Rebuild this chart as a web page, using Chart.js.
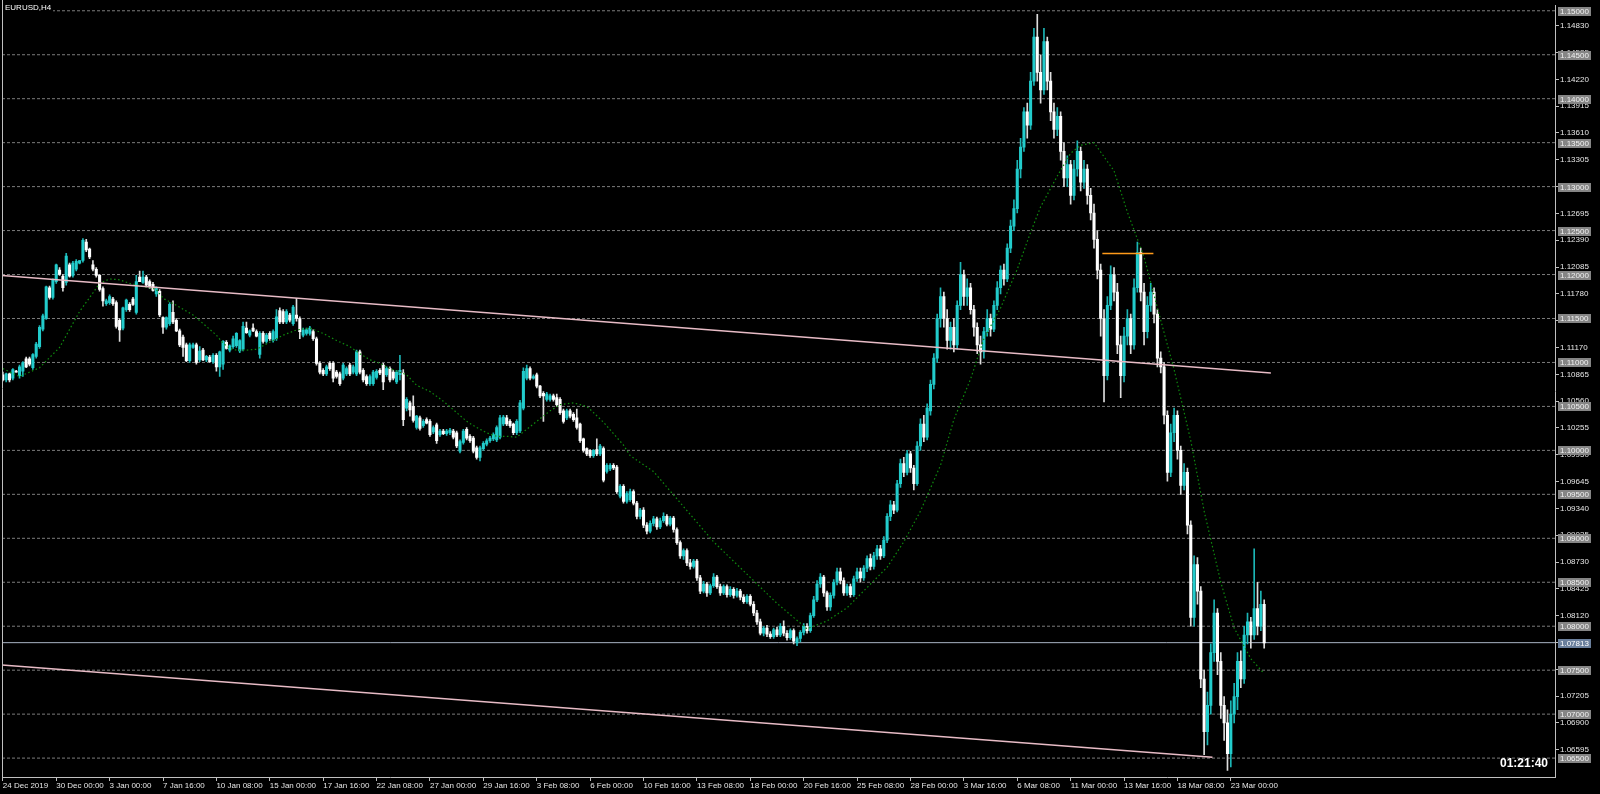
<!DOCTYPE html>
<html>
<head>
<meta charset="utf-8">
<script src="https://cdn.jsdelivr.net/npm/chart.js@4.4.1/dist/chart.umd.min.js"></script>
<style>
  html, body { margin: 0; padding: 0; background: #000; }
</style>
</head>
<body>
<canvas id="chart" width="1600" height="794"></canvas>
<script>
// EURUSD H4, 24 Dec 2019 .. 24 Mar 2020
const symbolLabel = 'EURUSD,H4';
const timerLabel = '01:21:40';

const timeLabels = ['24 Dec 2019', '30 Dec 00:00', '3 Jan 00:00', '7 Jan 16:00', '10 Jan 08:00', '15 Jan 00:00',
  '17 Jan 16:00', '22 Jan 08:00', '27 Jan 00:00', '29 Jan 16:00', '3 Feb 08:00', '6 Feb 00:00',
  '10 Feb 16:00', '13 Feb 08:00', '18 Feb 00:00', '20 Feb 16:00', '25 Feb 08:00', '28 Feb 00:00',
  '3 Mar 16:00', '6 Mar 08:00', '11 Mar 00:00', '13 Mar 16:00', '18 Mar 08:00', '23 Mar 00:00'];
const timeLabelBars = [0, 16, 32, 48, 64, 80, 96, 112, 128, 144, 160, 176,
  192, 208, 224, 240, 256, 272, 288, 304, 320, 336, 352, 368];

const priceTicks = [1.06595, 1.06900, 1.07205, 1.07510, 1.07815, 1.08120, 1.08425, 1.08730, 1.09035, 1.09340,
  1.09645, 1.09950, 1.10255, 1.10560, 1.10865, 1.11170, 1.11475, 1.11780, 1.12085, 1.12390,
  1.12695, 1.13000, 1.13305, 1.13610, 1.13915, 1.14220, 1.14525, 1.14830];
const levelPrices = [1.065, 1.070, 1.075, 1.080, 1.085, 1.090, 1.095, 1.100, 1.105,
  1.110, 1.115, 1.120, 1.125, 1.130, 1.135, 1.140, 1.145, 1.150];
const bidPrice = 1.07813;

const opens = [
  1.1086,1.1080,1.1087,1.1082,1.1090,1.1085,1.1090,1.1104,1.1104,1.1094,
  1.1107,1.1118,1.1138,1.1150,1.1185,1.1174,1.1192,1.1205,1.1198,1.1191,
  1.1211,1.1199,1.1206,1.1213,1.1216,1.1237,1.1229,1.1211,1.1206,1.1199,
  1.1184,1.1167,1.1168,1.1172,1.1168,1.1148,1.1139,1.1160,1.1166,
  1.1172,1.1157,1.1197,1.1191,1.1197,1.1192,1.1189,1.1178,1.1181,1.1151,1.1140,
  1.1144,1.1157,1.1148,1.1136,1.1129,1.1120,1.1102,1.1117,1.1120,1.1103,
  1.1114,1.1103,1.1106,1.1101,1.1108,1.1095,1.1098,1.1123,1.1114,1.1118,
  1.1119,1.1113,1.1115,1.1139,1.1131,1.1139,
  1.1135,1.1109,1.1133,1.1124,1.1133,1.1125,1.1127,1.1159,1.1158,1.1146,
  1.1154,1.1144,1.1154,1.1150,1.1131,1.1133,1.1133,1.1135,1.1127,1.1099,
  1.1091,1.1087,1.1099,1.1099,1.1089,1.1087,1.1082,1.1087,1.1097,1.1089,
  1.1087,1.1112,1.1091,1.1084,1.1076,1.1076,
  1.1083,1.1091,1.1097,1.1086,1.1093,1.1089,1.1078,1.1086,1.1088,1.1048,
  1.1054,1.1050,1.1026,1.1037,1.1028,1.1035,1.1033,1.1021,1.1029,1.1018,
  1.1022,1.1019,1.1020,1.1022,1.1020,1.0999,1.1009,1.1024,1.1016,1.1014,
  1.1003,1.0992,1.1002,1.1007,1.1011,1.1013,1.1012,1.1015,
  1.1030,1.1037,1.1033,1.1030,1.1020,1.1022,1.1048,1.1082,1.1093,1.1082,
  1.1086,1.1073,1.1065,1.1058,1.1058,1.1062,1.1060,1.1058,1.1045,1.1037,
  1.1045,1.1041,1.1037,1.1030,1.1013,1.1002,1.1000,1.0994,1.1001,1.0996,
  1.1002,1.0976,1.0979,1.0983,1.0981,1.0948,1.0959,1.0942,1.0944,
  1.0953,1.0940,1.0925,1.0932,1.0915,1.0908,1.0917,1.0922,1.0913,1.0920,
  1.0925,1.0916,1.0923,1.0910,1.0895,1.0880,1.0886,1.0872,1.0868,
  1.0874,1.0855,1.0840,1.0848,1.0838,1.0846,1.0856,1.0845,1.0838,1.0845,
  1.0836,1.0842,1.0835,1.0840,1.0833,1.0828,1.0834,1.0825,1.0815,
  1.0805,1.0792,1.0798,1.0791,1.0788,1.0796,1.0790,1.0800,1.0792,1.0787,
  1.0795,1.0781,1.0786,1.0793,1.0800,1.0795,1.0812,
  1.0830,1.0848,1.0856,1.0838,1.0822,1.0835,1.0850,1.0862,1.0852,1.0838,
  1.0845,1.0836,1.0854,
  1.0862,1.0855,1.0866,1.0877,1.0868,1.0880,1.0888,1.0880,1.0898,1.0925,
  1.0938,1.0932,1.0962,1.0985,1.0975,1.0996,
  1.0980,1.0962,1.1005,1.1030,1.1015,1.1045,1.1075,1.1105,1.1150,1.1175,
  1.1150,1.1125,1.1140,1.1120,1.1165,1.1200,
  1.1175,1.1185,1.1160,1.1140,1.1120,1.1112,1.1135,1.1150,1.1138,1.1165,
  1.1185,1.1205,1.1195,1.1230,1.1255,1.1275,
  1.1320,1.1345,1.1385,1.1370,1.1420,1.1470,1.1430,1.1410,1.1465,1.1420,
  1.1385,1.1365,1.1380,1.1340,1.1310,1.1325,
  1.1290,1.1320,1.1340,1.1305,1.1320,1.1290,1.1270,1.1240,1.1205,1.1150,
  1.1085,1.1165,1.1200,1.1180,1.1120,1.1085,
  1.1130,1.1150,1.1120,1.1185,1.1225,1.1180,1.1135,1.1165,1.1180,1.1155,
  1.1105,1.1095,1.1040,1.0975,1.1020,1.1040,
  1.1000,1.0960,1.0975,1.0915,1.0810,1.0870,1.0840,1.0740,1.0680,1.0710,
  1.0770,1.0815,1.0760,1.0710,1.0690,1.0655,1.0700,1.0720,1.0760,1.0740,
  1.0790,1.0805,1.0790,1.0820,1.0800,1.0825
];
const highs = [
  1.1089,1.1088,1.1088,1.1093,1.1091,1.1097,1.1101,1.1106,1.1106,1.1110,
  1.1123,1.1142,1.1155,1.1187,1.1187,1.1195,1.1212,1.1208,1.1200,1.1224,
  1.1213,1.1215,1.1217,1.1216,1.1241,1.1240,1.1230,1.1216,1.1208,1.1200,
  1.1186,1.1172,1.1177,1.1174,1.1170,1.1150,1.1163,1.1172,1.1168,
  1.1174,1.1199,1.1204,1.1204,1.1199,1.1194,1.1191,1.1186,1.1183,1.1152,1.1152,
  1.1168,1.1170,1.1150,1.1138,1.1131,1.1122,1.1122,1.1122,1.1122,1.1118,
  1.1116,1.1108,1.1108,1.1110,1.1110,1.1113,1.1125,1.1125,1.1120,1.1130,
  1.1134,1.1126,1.1146,1.1146,1.1137,1.1144,
  1.1137,1.1135,1.1135,1.1133,1.1135,1.1137,1.1160,1.1162,1.1160,1.1160,
  1.1156,1.1165,1.1173,1.1152,1.1139,1.1139,1.1141,1.1137,1.1129,1.1101,
  1.1093,1.1097,1.1101,1.1101,1.1091,1.1089,1.1099,1.1095,1.1099,1.1097,
  1.1114,1.1114,1.1093,1.1086,1.1086,1.1091,
  1.1092,1.1093,1.1099,1.1095,1.1095,1.1091,1.1091,1.1108,1.1092,1.1060,
  1.1056,1.1062,1.1040,1.1039,1.1035,1.1037,1.1035,1.1028,1.1031,1.1024,
  1.1024,1.1024,1.1025,1.1024,1.1022,1.1012,1.1024,1.1026,1.1018,1.1016,
  1.1005,1.1005,1.1010,1.1013,1.1016,1.1020,1.1028,1.1040,
  1.1040,1.1040,1.1035,1.1031,1.1035,1.1057,1.1094,1.1097,1.1095,1.1086,
  1.1088,1.1074,1.1067,1.1066,1.1064,1.1064,1.1064,1.1060,1.1047,1.1047,
  1.1047,1.1043,1.1047,1.1031,1.1014,1.1003,1.1001,1.1001,1.1013,1.1007,
  1.1004,1.0985,1.0985,1.0985,1.0983,1.0961,1.0961,1.0953,1.0956,
  1.0955,1.0942,1.0934,1.0935,1.0918,1.0920,1.0925,1.0924,1.0923,1.0929,
  1.0927,1.0925,1.0925,1.0912,1.0897,1.0888,1.0888,1.0876,1.0876,
  1.0876,1.0858,1.0851,1.0850,1.0848,1.0860,1.0858,1.0848,1.0847,1.0847,
  1.0845,1.0844,1.0843,1.0842,1.0836,1.0836,1.0836,1.0828,1.0818,
  1.0808,1.0800,1.0801,1.0794,1.0798,1.0799,1.0803,1.0806,1.0795,1.0797,
  1.0797,1.0788,1.0795,1.0803,1.0803,1.0815,1.0834,
  1.0852,1.0860,1.0858,1.0840,1.0838,1.0853,1.0866,1.0866,1.0855,1.0848,
  1.0848,1.0857,1.0866,
  1.0866,1.0869,1.0880,1.0882,1.0884,1.0892,1.0892,1.0902,1.0928,1.0943,
  1.0942,1.0966,1.0990,1.0992,1.1000,1.0999,
  1.0983,1.1010,1.1036,1.1040,1.1053,1.1080,1.1110,1.1155,1.1185,1.1180,
  1.1160,1.1146,1.1150,1.1170,1.1214,1.1205,
  1.1195,1.1190,1.1165,1.1145,1.1130,1.1140,1.1160,1.1155,1.1170,1.1192,
  1.1210,1.1212,1.1235,1.1262,1.1285,1.1330,
  1.1355,1.1390,1.1395,1.1430,1.1480,1.1496,1.1450,1.1480,1.1470,1.1430,
  1.1395,1.1390,1.1385,1.1350,1.1335,1.1330,
  1.1330,1.1352,1.1345,1.1330,1.1325,1.1298,1.1280,1.1250,1.1212,1.1160,
  1.1175,1.1210,1.1208,1.1190,1.1130,1.1140,
  1.1160,1.1155,1.1195,1.1237,1.1230,1.1190,1.1175,1.1190,1.1185,1.1160,
  1.1112,1.1100,1.1045,1.1030,1.1048,1.1045,
  1.1005,1.0985,1.0980,1.0920,1.0880,1.0878,1.0845,1.0750,1.0725,1.0780,
  1.0830,1.0820,1.0770,1.0720,1.0705,1.0715,1.0735,1.0770,1.0772,1.0800,
  1.0815,1.0810,1.0888,1.0850,1.0840,1.0830
];
const lows = [
  1.1079,1.1078,1.1078,1.1080,1.1089,1.1082,1.1084,1.1094,1.1096,1.1092,
  1.1105,1.1116,1.1136,1.1149,1.1172,1.1172,1.1190,1.1199,1.1181,1.1188,
  1.1197,1.1197,1.1204,1.1212,1.1214,1.1226,1.1218,1.1204,1.1197,1.1181,
  1.1164,1.1165,1.1166,1.1165,1.1139,1.1124,1.1137,1.1158,1.1158,
  1.1165,1.1155,1.1192,1.1190,1.1186,1.1184,1.1181,1.1175,1.1152,1.1133,1.1138,
  1.1142,1.1144,1.1135,1.1118,1.1107,1.1101,1.1100,1.1116,1.1098,1.1101,
  1.1102,1.1101,1.1100,1.1099,1.1090,1.1084,1.1092,1.1115,1.1112,1.1116,
  1.1117,1.1111,1.1113,1.1133,1.1129,1.1135,
  1.1129,1.1105,1.1122,1.1122,1.1125,1.1123,1.1125,1.1144,1.1144,1.1144,
  1.1146,1.1142,1.1147,1.1127,1.1129,1.1131,1.1131,1.1125,1.1097,1.1087,
  1.1085,1.1085,1.1091,1.1078,1.1082,1.1074,1.1080,1.1085,1.1085,1.1087,
  1.1085,1.1087,1.1078,1.1074,1.1074,1.1074,
  1.1081,1.1086,1.1069,1.1084,1.1078,1.1080,1.1076,1.1080,1.1028,1.1045,
  1.1039,1.1032,1.1024,1.1023,1.1026,1.1030,1.1016,1.1019,1.1008,1.1016,
  1.1018,1.1017,1.1018,1.1013,1.1003,1.0997,1.1007,1.1012,1.1009,1.0997,
  1.0990,1.0988,1.1000,1.1005,1.1009,1.1011,1.1010,1.1013,
  1.1028,1.1028,1.1026,1.1018,1.1018,1.1020,1.1046,1.1080,1.1080,1.1081,
  1.1071,1.1060,1.1033,1.1056,1.1056,1.1056,1.1050,1.1041,1.1031,1.1035,
  1.1037,1.1033,1.1024,1.1009,1.0998,1.0994,1.0992,1.0992,1.0994,1.0994,
  1.0964,1.0974,1.0977,1.0978,1.0951,1.0946,1.0940,1.0940,1.0942,
  1.0938,1.0922,1.0922,1.0912,1.0905,1.0906,1.0914,1.0910,1.0911,1.0918,
  1.0914,1.0914,1.0907,1.0893,1.0877,1.0876,1.0869,1.0865,1.0866,
  1.0852,1.0837,1.0838,1.0834,1.0836,1.0844,1.0843,1.0835,1.0836,1.0833,
  1.0834,1.0832,1.0833,1.0830,1.0826,1.0826,1.0823,1.0812,1.0802,
  1.0790,1.0789,1.0788,1.0786,1.0786,1.0788,1.0788,1.0789,1.0784,1.0785,
  1.0780,1.0778,1.0782,1.0790,1.0792,1.0793,1.0810,
  1.0828,1.0844,1.0834,1.0818,1.0818,1.0832,1.0847,1.0848,1.0835,1.0835,
  1.0833,1.0834,1.0851,
  1.0850,1.0852,1.0862,1.0864,1.0865,1.0876,1.0876,1.0878,1.0895,1.0920,
  1.0928,1.0930,1.0958,1.0970,1.0972,1.0975,
  1.0955,1.0960,1.1000,1.1010,1.1012,1.1040,1.1070,1.1100,1.1140,1.1140,
  1.1115,1.1115,1.1112,1.1115,1.1160,1.1165,
  1.1165,1.1155,1.1130,1.1110,1.1098,1.1105,1.1130,1.1130,1.1135,1.1160,
  1.1178,1.1188,1.1192,1.1225,1.1250,1.1270,
  1.1310,1.1340,1.1355,1.1365,1.1415,1.1420,1.1395,1.1405,1.1410,1.1375,
  1.1355,1.1358,1.1330,1.1300,1.1300,1.1280,
  1.1285,1.1312,1.1295,1.1298,1.1280,1.1262,1.1230,1.1195,1.1130,1.1055,
  1.1080,1.1160,1.1170,1.1110,1.1060,1.1078,
  1.1120,1.1110,1.1115,1.1180,1.1170,1.1120,1.1128,1.1158,1.1145,1.1095,
  1.1088,1.1030,1.0965,1.0970,1.1010,1.0990,
  1.0950,1.0955,1.0905,1.0800,1.0800,1.0825,1.0730,1.0654,1.0665,1.0700,
  1.0760,1.0745,1.0695,1.0670,1.0636,1.0640,1.0690,1.0705,1.0730,1.0735,
  1.0780,1.0775,1.0785,1.0790,1.0795,1.0775
];
const closes = [
  1.1080,1.1087,1.1080,1.1092,1.1089,1.1095,1.1100,1.1095,1.1098,1.1109,
  1.1121,1.1140,1.1153,1.1186,1.1174,1.1194,1.1211,1.1200,1.1185,1.1221,
  1.1198,1.1213,1.1215,1.1216,1.1239,1.1228,1.1220,1.1206,1.1199,1.1183,
  1.1170,1.1170,1.1175,1.1167,1.1141,1.1137,1.1162,1.1171,1.1160,
  1.1166,1.1192,1.1192,1.1197,1.1188,1.1187,1.1182,1.1184,1.1154,1.1140,1.1151,
  1.1166,1.1146,1.1136,1.1120,1.1117,1.1102,1.1120,1.1120,1.1100,1.1113,
  1.1103,1.1107,1.1101,1.1108,1.1095,1.1112,1.1124,1.1116,1.1119,1.1127,
  1.1133,1.1125,1.1141,1.1134,1.1136,1.1136,
  1.1130,1.1133,1.1124,1.1131,1.1127,1.1135,1.1152,1.1146,1.1146,1.1158,
  1.1148,1.1163,1.1150,1.1135,1.1137,1.1137,1.1139,1.1127,1.1099,1.1089,
  1.1087,1.1095,1.1093,1.1082,1.1084,1.1076,1.1097,1.1093,1.1087,1.1095,
  1.1112,1.1089,1.1080,1.1076,1.1084,1.1089,
  1.1090,1.1088,1.1078,1.1093,1.1080,1.1082,1.1089,1.1091,1.1035,1.1058,
  1.1046,1.1034,1.1039,1.1025,1.1033,1.1031,1.1018,1.1026,1.1011,1.1022,
  1.1019,1.1022,1.1023,1.1015,1.1005,1.1010,1.1022,1.1014,1.1011,1.0999,
  1.0992,1.1003,1.1008,1.1011,1.1014,1.1018,1.1026,1.1037,
  1.1038,1.1030,1.1028,1.1020,1.1033,1.1054,1.1090,1.1093,1.1082,1.1084,
  1.1073,1.1062,1.1062,1.1064,1.1062,1.1058,1.1052,1.1043,1.1033,1.1045,
  1.1039,1.1035,1.1026,1.1011,1.1000,1.0996,1.0994,1.1000,1.0996,1.1005,
  1.0966,1.0983,1.0983,1.0980,1.0953,1.0959,1.0942,1.0951,1.0953,
  1.0940,1.0925,1.0932,1.0915,1.0908,1.0917,1.0922,1.0913,1.0920,1.0925,
  1.0916,1.0923,1.0910,1.0895,1.0880,1.0886,1.0872,1.0868,1.0874,
  1.0855,1.0840,1.0848,1.0838,1.0846,1.0856,1.0845,1.0838,1.0845,1.0836,
  1.0842,1.0835,1.0840,1.0833,1.0828,1.0834,1.0825,1.0815,1.0805,
  1.0792,1.0798,1.0791,1.0788,1.0796,1.0790,1.0800,1.0792,1.0787,1.0795,
  1.0783,1.0786,1.0793,1.0800,1.0795,1.0812,1.0830,
  1.0848,1.0856,1.0838,1.0822,1.0835,1.0850,1.0862,1.0852,1.0838,1.0845,
  1.0836,1.0854,1.0862,
  1.0855,1.0866,1.0877,1.0868,1.0880,1.0888,1.0880,1.0898,1.0925,1.0938,
  1.0932,1.0962,1.0985,1.0975,1.0996,1.0980,
  1.0962,1.1005,1.1030,1.1015,1.1048,1.1075,1.1105,1.1150,1.1175,1.1150,
  1.1125,1.1140,1.1120,1.1165,1.1200,1.1175,
  1.1185,1.1160,1.1140,1.1120,1.1112,1.1135,1.1150,1.1138,1.1165,1.1185,
  1.1205,1.1195,1.1230,1.1255,1.1275,1.1320,
  1.1345,1.1385,1.1370,1.1420,1.1470,1.1430,1.1410,1.1465,1.1420,1.1385,
  1.1365,1.1380,1.1340,1.1310,1.1325,1.1290,
  1.1320,1.1340,1.1305,1.1320,1.1290,1.1270,1.1240,1.1205,1.1150,1.1085,
  1.1165,1.1200,1.1180,1.1120,1.1085,1.1130,
  1.1150,1.1120,1.1185,1.1225,1.1180,1.1135,1.1165,1.1180,1.1155,1.1105,
  1.1095,1.1040,1.0975,1.1020,1.1040,1.1000,
  1.0960,1.0975,1.0915,1.0810,1.0870,1.0840,1.0740,1.0680,1.0710,1.0770,
  1.0815,1.0760,1.0710,1.0690,1.0655,1.0700,1.0720,1.0760,1.0740,1.0790,
  1.0805,1.0790,1.0820,1.0800,1.0825,1.0781
];

// moving average (green dotted), read at these bars
const maBars = [0,5,11,17,23,27,29,32,35,38,46,48,52,57,61,64,66,68,70,73,
  76,80,84,88,92,96,100,104,107,110,113,116,121,124,128,132,136,139,142,145,
  148,151,154,157,160,164,167,171,175,177,180,183,186,188,195,213,232,241,247,253,
  259,265,270,275,281,285,290,294,299,304,308,311,316,320,323,327,333,337,342,346,
  351,356,360,365,369,374,378];
const maValues = [1.1093,1.1084,1.1094,1.1117,1.1158,1.1179,1.1190,1.1195,1.1194,1.1190,
  1.1183,1.1173,1.1165,1.1154,1.1141,1.1131,1.1122,1.1116,1.1114,1.1114,
  1.1115,1.1123,1.1131,1.1137,1.1139,1.1133,1.1125,1.1118,1.1110,1.1103,
  1.1099,1.1093,1.1086,1.1074,1.1067,1.1056,1.1043,1.1033,1.1026,1.1020,
  1.1016,1.1016,1.1015,1.1024,1.1033,1.1045,1.1052,1.1054,1.1050,1.1043,
  1.1032,1.1019,1.1006,1.0994,1.0976,1.0896,1.0826,1.0797,1.0806,1.0821,
  1.0844,1.0867,1.0896,1.0931,1.0983,1.1035,1.1081,1.1127,1.1162,1.1206,
  1.1248,1.1277,1.1312,1.1338,1.1347,1.1350,1.1318,1.1271,1.1220,1.1162,
  1.1092,1.1011,1.0931,1.0850,1.0798,1.0763,1.0746];

// drawn objects
const trendABars = [-0.75, 380];
const trendAPrices = [1.1199, 1.1088];
const trendBBars = [-0.75, 362.5];
const trendBPrices = [1.0756, 1.0651];
const orangeBars = [329.5, 344.8];
const orangePrices = [1.1224, 1.1224];

// view
const X_MIN = -0.25, X_MAX = 465.15;
const Y_MIN = 1.06285, Y_MAX = 1.150566;
const BULL = '#22cccc', BEAR = '#ffffff';
const BULL_WICK = '#1bb5b5', BEAR_WICK = '#dddddd';
const FONT = 'Liberation Sans';

const idx = opens.map((_, i) => i);
const isUp = idx.map(i => closes[i] >= opens[i]);
const pts = (xs, ys) => xs.map((x, k) => ({ x: x, y: ys[k] }));

function lineSet(data, color, width, dash, order) {
    return {
        type: 'line', data: data, borderColor: color, borderWidth: width,
        borderDash: dash, pointRadius: 0, fill: false, tension: 0, order: order
    };
}

const datasets = [];
levelPrices.forEach(p => {
    datasets.push(lineSet([{ x: X_MIN, y: p }, { x: X_MAX, y: p }], '#7c7c7c', 1, [3, 2], 30));
});
datasets.push(lineSet([{ x: X_MIN, y: bidPrice }, { x: X_MAX, y: bidPrice }], '#a9b3c4', 1, [], 25));
datasets.push({
    label: 'wicks',
    data: idx.map(i => ({ x: i, y: [lows[i], highs[i]] })),
    backgroundColor: idx.map(i => isUp[i] ? BULL_WICK : BEAR_WICK),
    barThickness: 1, grouped: false, borderWidth: 0, order: 20
});
datasets.push({
    label: 'bodies',
    data: idx.map(i => ({ x: i, y: [opens[i], closes[i]] })),
    backgroundColor: idx.map(i => isUp[i] ? BULL : BEAR),
    barThickness: 2.4, minBarLength: 1, grouped: false, borderWidth: 0, order: 19
});
datasets.push(lineSet(pts(maBars, maValues), '#0f8c0f', 1.2, [1.5, 2.5], 5));
datasets.push(lineSet(pts(trendABars, trendAPrices), '#e8bcc6', 1.5, [], 3));
datasets.push(lineSet(pts(trendBBars, trendBPrices), '#e8bcc6', 1.5, [], 3));
datasets.push(lineSet(pts(orangeBars, orangePrices), '#ff9a1a', 1.5, [], 2));

const overlay = {
    id: 'overlay',
    beforeDraw(chart) {
        const c = chart.ctx;
        c.save();
        c.fillStyle = '#000000';
        c.fillRect(0, 0, chart.width, chart.height);
        c.restore();
    },
    afterDraw(chart) {
        const c = chart.ctx, ys = chart.scales.y, a = chart.chartArea;
        c.save();
        // left frame line
        c.strokeStyle = '#c0c0c0';
        c.lineWidth = 1;
        c.beginPath();
        c.moveTo(a.left + 0.5, 0);
        c.lineTo(a.left + 0.5, a.bottom);
        c.stroke();

        // price labels of the horizontal lines
        c.font = '8px "' + FONT + '"';
        c.textBaseline = 'middle';
        c.textAlign = 'left';
        levelPrices.forEach(p => {
            const py = Math.round(ys.getPixelForValue(p));
            c.fillStyle = '#858585';
            c.fillRect(a.right + 3, py - 4, 33, 9);
            c.fillStyle = '#f2f2f2';
            c.fillText(p.toFixed(5), a.right + 5, py + 0.5);
        });
        const by = Math.round(ys.getPixelForValue(bidPrice));
        c.fillStyle = '#6a7f9c';
        c.fillRect(a.right + 3, by - 4, 33, 9);
        c.fillStyle = '#ffffff';
        c.fillText(bidPrice.toFixed(5), a.right + 5, by + 0.5);

        // symbol caption
        c.fillStyle = '#000000';
        c.fillRect(a.left + 1, 2, 50, 10);
        c.fillStyle = '#ffffff';
        c.fillText(symbolLabel, a.left + 3, 7.5);

        // bar timer
        c.font = 'bold 12px "' + FONT + '"';
        c.textAlign = 'right';
        c.fillText(timerLabel, a.right - 7, 764);
        c.restore();
    }
};

new Chart(document.getElementById('chart').getContext('2d'), {
    type: 'bar',
    data: { datasets: datasets },
    options: {
        responsive: false,
        animation: false,
        devicePixelRatio: 1,
        layout: { padding: { left: 2, top: 2, right: 0, bottom: 0 } },
        plugins: { legend: { display: false }, tooltip: { enabled: false } },
        scales: {
            x: {
                type: 'linear', min: X_MIN, max: X_MAX, offset: false,
                afterBuildTicks: s => { s.ticks = timeLabelBars.map(v => ({ value: v })); },
                afterFit: s => { s.height = 17; },
                ticks: {
                    autoSkip: false, maxRotation: 0, align: 'start', padding: 0,
                    color: '#e6e6e6', font: { family: FONT, size: 8 },
                    callback: (v, i) => timeLabels[i]
                },
                grid: { display: true, drawOnChartArea: false, drawTicks: true, tickLength: 4, color: '#c0c0c0', offset: false },
                border: { display: true, color: '#c0c0c0' }
            },
            y: {
                type: 'linear', position: 'right', min: Y_MIN, max: Y_MAX,
                afterBuildTicks: s => { s.ticks = priceTicks.map(v => ({ value: v })); },
                afterFit: s => { s.width = 45; },
                ticks: {
                    autoSkip: false, padding: 1, color: '#e6e6e6',
                    font: { family: FONT, size: 8 },
                    callback: v => v.toFixed(5)
                },
                grid: { display: true, drawOnChartArea: false, drawTicks: true, tickLength: 4, color: '#c0c0c0' },
                border: { display: true, color: '#c0c0c0' }
            }
        }
    },
    plugins: [overlay]
});
</script>
</body>
</html>
